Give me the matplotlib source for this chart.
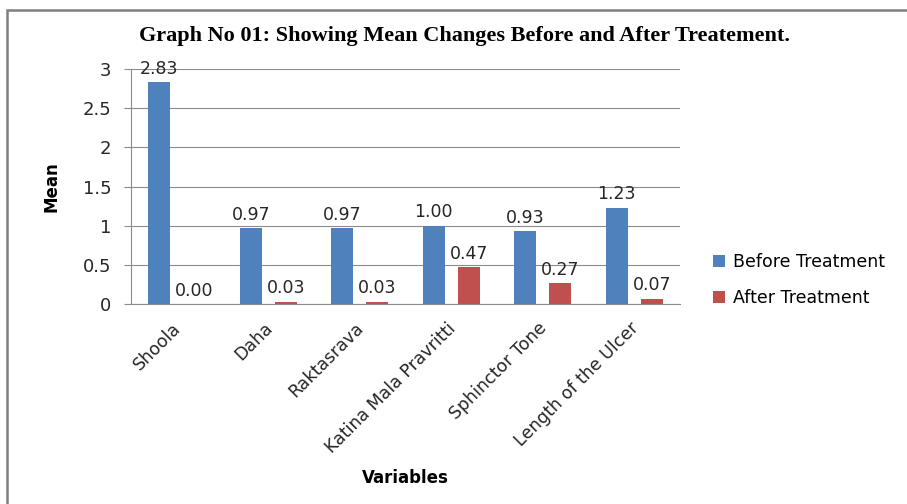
import numpy as np
import matplotlib
matplotlib.use('Agg')
import matplotlib.pyplot as plt
import matplotlib.transforms as mtransforms
from matplotlib.patches import Rectangle

categories = ['Shoola', 'Daha', 'Raktasrava', 'Katina Mala Pravritti',
              'Sphinctor Tone', 'Length of the Ulcer']
before = [2.83, 0.97, 0.97, 1.00, 0.93, 1.23]
after = [0.00, 0.03, 0.03, 0.47, 0.27, 0.07]
series_names = ['Before Treatment', 'After Treatment']
yticks = [0, 0.5, 1, 1.5, 2, 2.5, 3]

BLUE = '#4F81BD'
RED = '#C0504D'
GRID = '#8C8C8C'
TXT = '#262626'

plt.rcParams['font.family'] = ['DejaVu Sans']

fig = plt.figure(figsize=(9.07, 5.04), dpi=100)
# outer chart frame
fig.patches.append(Rectangle((7 / 907, -0.1), 1.2, (504 - 10) / 504 + 0.1,
                             transform=fig.transFigure, fill=False,
                             edgecolor='#7F7F7F', linewidth=1.8))

ax = fig.add_axes([131 / 907, 1 - 304 / 504, 549 / 907, 235 / 504])

x = np.arange(len(categories))
w = 0.24
off = 0.19
b1 = ax.bar(x - off, before, w, color=BLUE, label=series_names[0])
b2 = ax.bar(x + off, after, w, color=RED, label=series_names[1])

for bars, vals in ((b1, before), (b2, after)):
    for r, v in zip(bars, vals):
        ax.annotate(f'{v:.2f}', (r.get_x() + r.get_width() / 2, v),
                    xytext=(0, 3), textcoords='offset points',
                    ha='center', va='bottom', fontsize=12.5, color=TXT)

ax.set_xlim(-0.5, len(categories) - 0.5)
ax.set_ylim(0, 3)
ax.set_yticks(yticks)
ax.set_yticklabels([f'{t:g}' for t in yticks], fontsize=13, color=TXT)
ax.yaxis.grid(True, color=GRID, linewidth=0.8)
ax.set_axisbelow(True)
ax.tick_params(axis='y', length=5, color=GRID, pad=9)
ax.tick_params(axis='x', length=0, pad=11)
ax.set_xticks(x)
ax.set_xticklabels(categories, rotation=45, ha='right', rotation_mode='anchor',
                   fontsize=12.5, color=TXT)
shift = mtransforms.ScaledTranslation(-5 / 100, 0, fig.dpi_scale_trans)
for lbl in ax.get_xticklabels():
    lbl.set_transform(lbl.get_transform() + shift)
for s in ('top', 'right'):
    ax.spines[s].set_visible(False)
for s in ('left', 'bottom'):
    ax.spines[s].set_color(GRID)

ax.set_ylabel('Mean', fontsize=12, fontweight='bold', color='black',
              labelpad=16)
fig.text(405 / 907, 1 - 478 / 504, 'Variables', ha='center', va='center',
         fontsize=12, fontweight='bold')

fig.text(465 / 907, 1 - 36 / 504,
         'Graph No 01: Showing Mean Changes Before and After Treatement.',
         ha='center', va='center', fontsize=16, fontweight='bold',
         family='Liberation Serif')

fig.legend(handles=[b1, b2], loc='center left',
           bbox_to_anchor=(697 / 907, 1 - 280 / 504), frameon=False,
           handlelength=0.7, handleheight=0.7,
           labelspacing=1.0, handletextpad=0.5,
           prop={'family': 'DejaVu Sans', 'size': 12.5})

fig.savefig('out.png', dpi=100)
